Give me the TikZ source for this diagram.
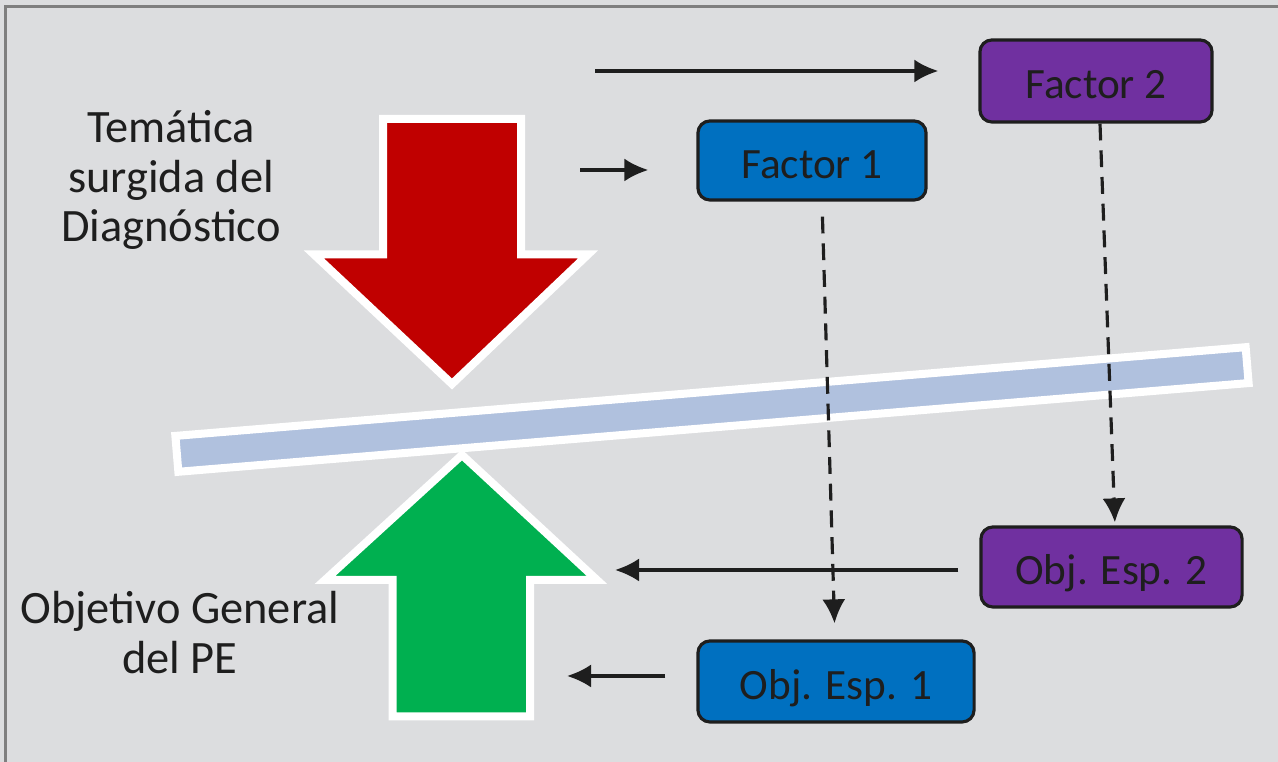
\documentclass[tikz,border=0pt]{standalone}
\usepackage{fontspec}
\setmainfont{Carlito}
\usetikzlibrary{calc,arrows.meta}

\definecolor{paneback}{RGB}{220,221,223}
\definecolor{paneframe}{RGB}{127,127,127}
\definecolor{boxblue}{RGB}{0,112,192}
\definecolor{boxpurple}{RGB}{112,48,160}
\definecolor{arrowred}{RGB}{192,0,0}
\definecolor{arrowgreen}{RGB}{0,176,80}
\definecolor{barblue}{RGB}{176,193,222}
\definecolor{inkgray}{RGB}{30,30,30}

\tikzset{
  factor/.style={draw=inkgray, line width=0.9pt, rounded corners=0.12cm,
    inner sep=0pt, text height=10pt, text depth=0pt, text=inkgray,
    font=\fontsize{12.3}{14}\selectfont},
  bluebox/.style={factor, fill=boxblue},
  purplebox/.style={factor, fill=boxpurple},
  sidetext/.style={align=center, inner sep=0pt, text=inkgray,
    font=\fontsize{13.2}{14.2}\selectfont},
  link/.style={draw=inkgray, line width=0.9pt,
    -{Latex[length=0.24cm,width=0.23cm]}},
  dashlink/.style={link, dash pattern=on 4.8pt off 2.8pt},
  bigarrow/.style={draw=white, line width=0.08cm, line join=miter}
}

\begin{document}
\begin{tikzpicture}[x=0.01cm, y=-0.01cm]
  \useasboundingbox (0,0) rectangle (1278,762);
  \clip (0,0) rectangle (1278,762);

  \fill
  [paneback]
  (0,0) rectangle (1278,762);

  \draw
  [paneframe, line width=0.03cm]
  (5.5,780) -- (5.5,7) -- (1290,7);

  % balance bar
  \filldraw
  [bigarrow, fill=barblue, rotate around={4.74:(712,409.5)}]
  (175,391.5) rectangle (1249,427.5);

  \filldraw
  [bigarrow, fill=arrowred]
  (383,119) -- (521,119) -- (521,254.5) -- (588,254.5)
  -- (452,384) -- (314,254.5) -- (383,254.5) -- cycle;

  \filldraw
  [bigarrow, fill=arrowgreen]
  (392.5,716.5) -- (392.5,580) -- (325,580) -- (462,455)
  -- (597,580) -- (530,580) -- (530,716.5) -- cycle;

  \node
  [sidetext]
  (theme) at (171,180) {Temática\\surgida del\\Diagnóstico};

  \node
  [sidetext]
  (goal) at (180,633) {Objetivo General\\del PE};

  \node
  [bluebox, minimum width=2.28cm, minimum height=0.79cm]
  (f1) at (812,160.5) {Factor 1};

  \node
  [purplebox, minimum width=2.32cm, minimum height=0.82cm]
  (f2) at (1096,81) {Factor 2};

  \node
  [purplebox, minimum width=2.61cm, minimum height=0.80cm]
  (o2) at (1111.5,567) {Obj. Esp. 2};

  \node
  [bluebox, minimum width=2.76cm, minimum height=0.81cm]
  (o1) at (836,681.5) {Obj. Esp. 1};

  \coordinate (in2) at (595,71);
  \coordinate (in1) at (580,170);
  \coordinate (out2) at (615,570);
  \coordinate (out1) at (567,676);

  \draw
  [link, shorten >=0.4cm]
  (in2) -- (in2 -| f2.west);

  \draw
  [link, shorten >=0.48cm]
  (in1) -- (in1 -| f1.west);

  \draw
  [link, shorten <=0.21cm]
  (out2 -| o2.west) -- (out2);

  \draw
  [link, shorten <=0.31cm]
  (out1 -| o1.west) -- (out1);

  \draw
  [dashlink, shorten <=0.15cm, shorten >=0.16cm]
  ($(f1.south)+(10,0)$) -- ($(o1.north)+(-1,0)$);

  \draw
  [dashlink, shorten >=0.03cm]
  ($(f2.south)+(4,0)$) -- ($(o2.north)+(3.5,0)$);
\end{tikzpicture}
\end{document}
